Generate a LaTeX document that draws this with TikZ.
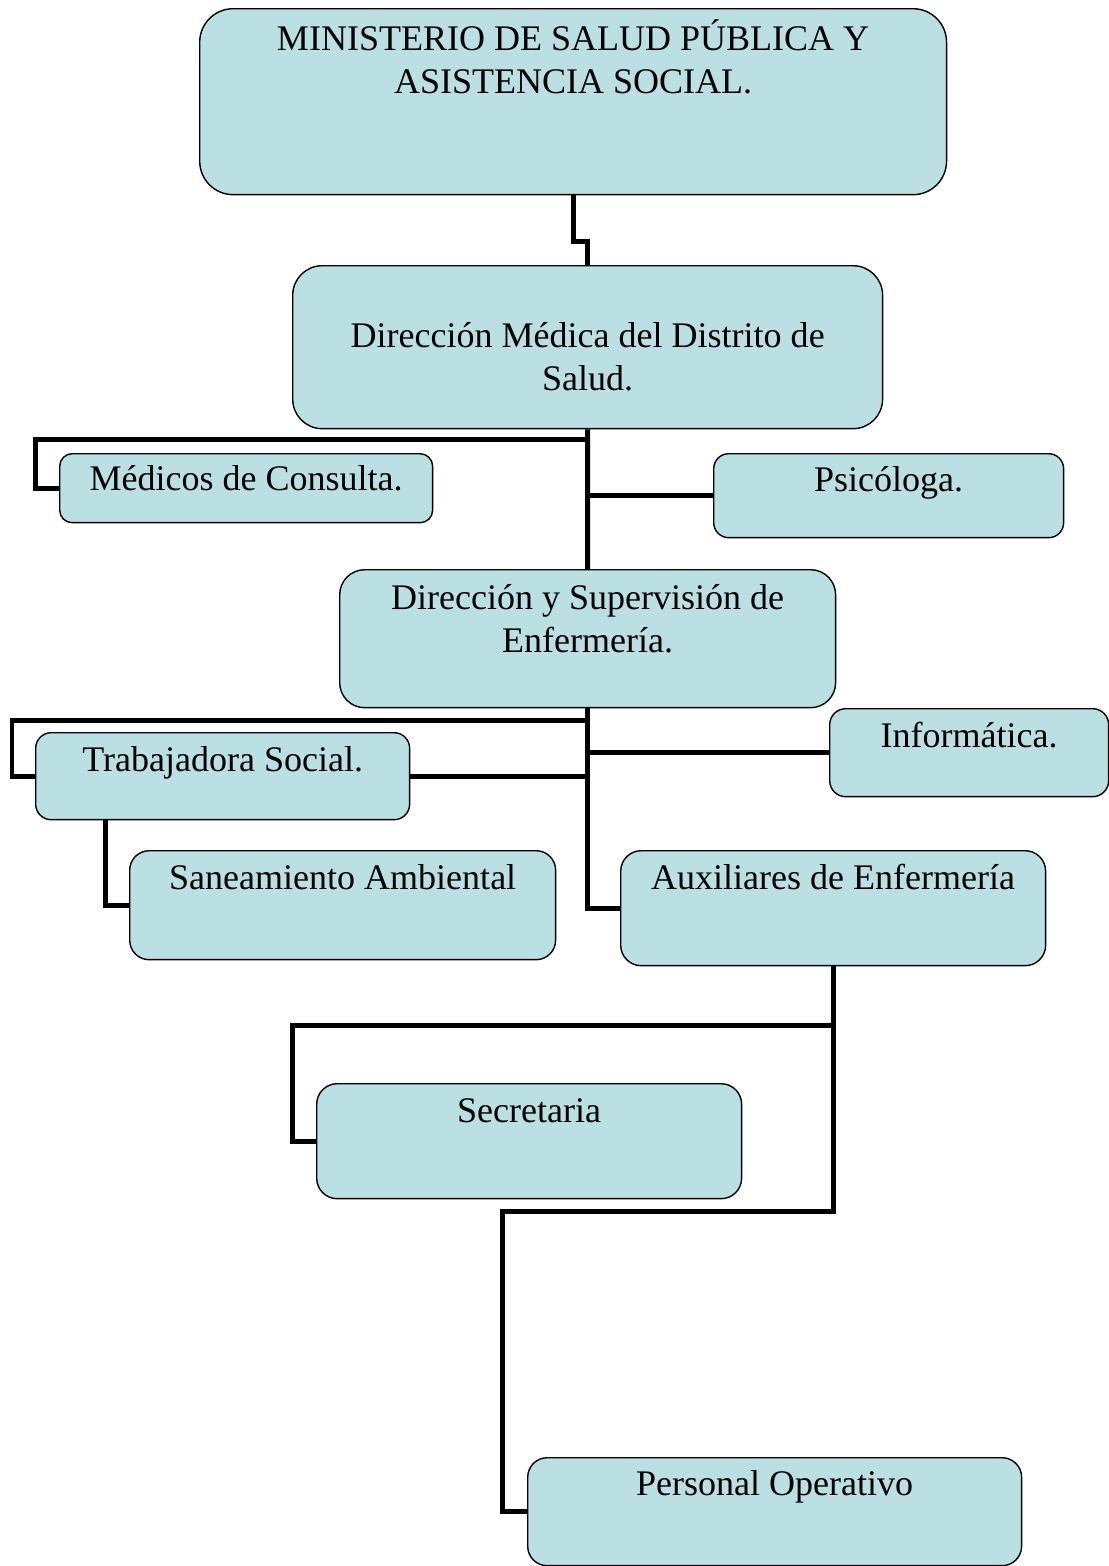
\documentclass[tikz,border=0pt]{standalone}
\usepackage{fontspec}
\setmainfont{Liberation Serif}
\usetikzlibrary{calc}
\definecolor{celeste}{RGB}{187,224,227}
\begin{document}
\begin{tikzpicture}[x=0.02cm, y=-0.02cm, line join=miter,
	font=\fontsize{20.5}{24.4}\selectfont,
	caja/.style={draw, fill=celeste, line width=0.8pt, anchor=north west, inner sep=0pt},
	texto/.style={anchor=base, align=center, inner sep=0pt},
	rama/.style={line width=0.1cm}
	]
	%	\draw[gray!10] (0,0) grid[step=100] (1109,1566);
	\useasboundingbox (0,0) rectangle (1109,1566);
	% cajas
	\node[caja, minimum width=14.94cm, minimum height=3.72cm, rounded corners=0.67cm] (minis) at (199,8) {};
	\node[caja, minimum width=11.8cm, minimum height=3.26cm, rounded corners=0.59cm] (dmed) at (292,265) {};
	\node[caja, minimum width=7.46cm, minimum height=1.38cm, rounded corners=0.25cm] (medc) at (59,453) {};
	\node[caja, minimum width=7cm, minimum height=1.68cm, rounded corners=0.3cm] (psic) at (713,453) {};
	\node[caja, minimum width=9.92cm, minimum height=2.76cm, rounded corners=0.5cm] (dsup) at (339,569) {};
	\node[caja, minimum width=7.48cm, minimum height=1.74cm, rounded corners=0.31cm] (trab) at (35,732) {};
	\node[caja, minimum width=5.58cm, minimum height=1.76cm, rounded corners=0.32cm] (info) at (829,708) {};
	\node[caja, minimum width=8.52cm, minimum height=2.18cm, rounded corners=0.39cm] (sane) at (129,850) {};
	\node[caja, minimum width=8.5cm, minimum height=2.3cm, rounded corners=0.41cm] (auxi) at (620,850) {};
	\node[caja, minimum width=8.5cm, minimum height=2.3cm, rounded corners=0.41cm] (secr) at (316,1083) {};
	\node[caja, minimum width=9.88cm, minimum height=2.16cm, rounded corners=0.39cm] (pers) at (527,1457) {};
	% textos (en dos lineas la base es la ultima linea)
	\node[texto] (minis-t) at ($(minis.north)+(0,85)$) {MINISTERIO DE SALUD PÚBLICA Y\\ASISTENCIA SOCIAL.};
	\node[texto] (dmed-t) at ($(dmed.north)+(0,125)$) {Dirección Médica del Distrito de\\Salud.};
	\node[texto] (medc-t) at ($(medc.north)+(0,37)$) {Médicos de Consulta.};
	\node[texto] (psic-t) at ($(psic.north)+(0,38)$) {Psicóloga.};
	\node[texto] (dsup-t) at ($(dsup.north)+(0,83)$) {Dirección y Supervisión de\\Enfermería.};
	\node[texto] (trab-t) at ($(trab.north)+(0,39)$) {Trabajadora Social.};
	\node[texto] (info-t) at ($(info.north)+(0,39)$) {Informática.};
	\node[texto] (sane-t) at ($(sane.north)+(0,39)$) {Saneamiento Ambiental};
	\node[texto] (auxi-t) at ($(auxi.north)+(0,39)$) {Auxiliares de Enfermería};
	\node[texto] (secr-t) at ($(secr.north)+(0,39)$) {Secretaria};
	\node[texto] (pers-t) at ($(pers.north)+(0,38)$) {Personal Operativo};
	% conectores
	\draw[rama] (minis.south) -- ++(0,46) -| (dmed.north);
	\draw[rama] (dmed.south) -- (dsup.north);
	\draw[rama] ($(dmed.south)+(0,10)$) -| ($(medc.west)+(-24,0)$) -- (medc.west);
	\draw[rama] (psic.west) -- (psic.west -| dmed.south);
	\draw[rama] (dsup.south) |- (auxi.west);
	\draw[rama] ($(dsup.south)+(0,12)$) -| ($(trab.west)+(-23,0)$) -- (trab.west);
	\draw[rama] (info.west) -- (info.west -| dsup.south);
	\draw[rama] (trab.east) -- (trab.east -| dsup.south);
	\draw[rama] ($(trab.south west)+(70,0)$) |- (sane.west);
	\draw[rama] (auxi.south) -- ++(0,245) -| ($(pers.west)+(-25,0)$) -- (pers.west);
	\draw[rama] ($(auxi.south)+(0,59)$) -| ($(secr.west)+(-24,0)$) -- (secr.west);
\end{tikzpicture}
\end{document}
